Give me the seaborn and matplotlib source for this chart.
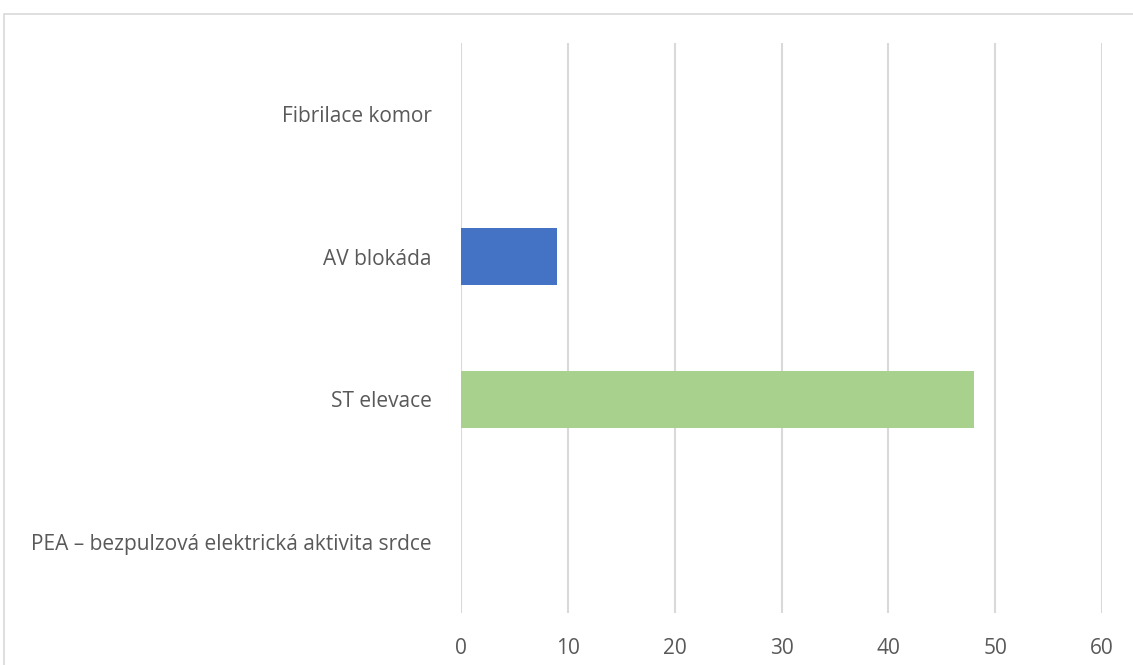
import numpy as np
import pandas as pd
import matplotlib
matplotlib.use('Agg')
import matplotlib.pyplot as plt
import seaborn as sns
from matplotlib.patches import Rectangle

sns.set_theme(style='white')
plt.rcParams['font.family'] = ['Open Sans', 'DejaVu Sans']

# Datos
categorias = ['Fibrilace komor', 'AV blokáda', 'ST elevace',
              'PEA – bezpulzová elektrická aktivita srdce']
valores = [0, 9, 48, 0]
colores = ['#4472C4', '#4472C4', '#A9D18E', '#4472C4']
ticks_x = [0, 10, 20, 30, 40, 50, 60]

df = pd.DataFrame({'cat': categorias, 'val': valores})

fig = plt.figure(figsize=(11.33, 6.65), dpi=100)
ax = fig.add_axes([461/1133, 1-613/665, (1102-461)/1133, (613-43)/665])

sns.barplot(data=df, x='val', y='cat', hue='cat', palette=colores,
            orient='h', width=0.4, legend=False, ax=ax, saturation=1,
            linewidth=0)

ax.set_xlim(0, 60)
ax.set_xticks(ticks_x)
ax.set_xlabel('')
ax.set_ylabel('')
ax.grid(axis='x', color='#D9D9D9', linewidth=1.5)
ax.set_axisbelow(True)
for s in ax.spines.values():
    s.set_visible(False)
ax.tick_params(axis='both', length=0, labelsize=15, labelcolor='#595959')
ax.tick_params(axis='x', pad=18)
ax.tick_params(axis='y', pad=21)

# marco del gráfico
fig.patches.append(Rectangle((4/1133, -0.1), 1.2, 1.1 - 14/665, transform=fig.transFigure,
                             fill=False, edgecolor='#D9D9D9', linewidth=1.2))

plt.savefig('out.png', dpi=100)
